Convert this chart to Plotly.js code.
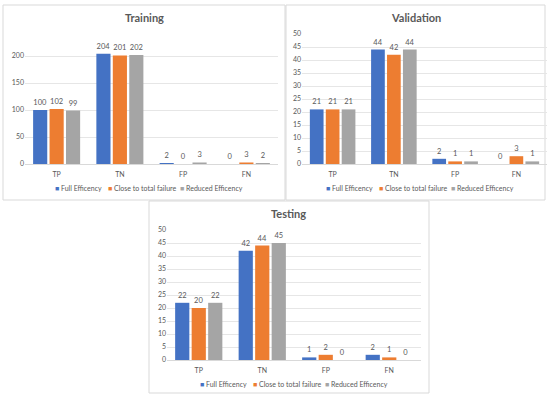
<!DOCTYPE html>
<html>
<head>
<meta charset="utf-8">
<script src="https://cdn.plot.ly/plotly-3.0.1.min.js"></script>
<style>html,body{margin:0;padding:0;background:#fff;}#chart{width:550px;height:398px;}</style>
</head>
<body>
<div id="chart"></div>
<script>
const categories = ["TP", "TN", "FP", "FN"];
const seriesNames = ["Full Efficency", "Close to total failure", "Reduced Efficency"];
const trainingFull = [100, 204, 2, 0];
const trainingClose = [102, 201, 0, 3];
const trainingReduced = [99, 202, 3, 2];
const validationFull = [21, 44, 2, 0];
const validationClose = [21, 42, 1, 3];
const validationReduced = [21, 44, 1, 1];
const testingFull = [22, 42, 1, 2];
const testingClose = [20, 44, 2, 1];
const testingReduced = [22, 45, 0, 0];
const trainingTicks = [0, 50, 100, 150, 200];
const smallTicks = [0, 5, 10, 15, 20, 25, 30, 35, 40, 45, 50];

const colors = ["#4472C4", "#ED7D31", "#A5A5A5"];
const W = 550, H = 398;
const px = v => v / W;
const py = v => 1 - v / H;
const FONT = "Lato, 'Open Sans', sans-serif";
const txtColor = "#595959";

function mk(vals, i, xa, ya) {
  return {
    type: "bar", x: categories, y: vals, name: seriesNames[i],
    xaxis: xa, yaxis: ya, showlegend: false,
    marker: {color: colors[i]},
    text: vals.map(String), textposition: "outside", cliponaxis: false,
    textfont: {size: 7.5, color: txtColor, family: FONT},
    hoverinfo: "x+y+name"
  };
}
const data = [
  mk(trainingFull, 0, "x", "y"),
  mk(trainingClose, 1, "x", "y"),
  mk(trainingReduced, 2, "x", "y"),
  mk(validationFull, 0, "x2", "y2"),
  mk(validationClose, 1, "x2", "y2"),
  mk(validationReduced, 2, "x2", "y2"),
  mk(testingFull, 0, "x3", "y3"),
  mk(testingClose, 1, "x3", "y3"),
  mk(testingReduced, 2, "x3", "y3")
];

function xax(d0, d1, anchor) {
  return {domain: [px(d0), px(d1)], anchor: anchor, showgrid: false, zeroline: false,
    showline: false, ticks: "", ticklabelstandoff: 5,
    tickfont: {size: 7, color: txtColor, family: FONT}, fixedrange: true};
}
function yax(top, bottom, anchor, range, ticks) {
  return {domain: [py(bottom), py(top)], anchor: anchor, range: range, tickvals: ticks,
    showgrid: true, gridcolor: "#e6e6e6", gridwidth: 1, zeroline: true, zerolinecolor: "#d9d9d9",
    showline: false, ticks: "", tickfont: {size: 7, color: txtColor, family: FONT}, fixedrange: true};
}
function title(text, xc, yc) {
  return {text: "<b>" + text + "</b>", x: px(xc), y: py(yc), xref: "paper", yref: "paper",
    xanchor: "center", yanchor: "middle", showarrow: false,
    font: {size: 11, color: txtColor, family: FONT}};
}
const legendOffsets = [0, 53, 125];
function legendItems(x0, yc) {
  return seriesNames.map((n, i) => ({
    text: "<span style='color:" + colors[i] + "'>■</span> " + n,
    x: px(x0 + legendOffsets[i]), y: py(yc), xref: "paper", yref: "paper",
    xanchor: "left", yanchor: "middle", showarrow: false,
    font: {size: 7, color: txtColor, family: FONT}
  }));
}
function box(x0, y0, x1, y1) {
  return {type: "rect", xref: "paper", yref: "paper", x0: px(x0), x1: px(x1), y0: py(y1), y1: py(y0),
    line: {color: "#d9d9d9", width: 1}, fillcolor: "rgba(0,0,0,0)", layer: "below"};
}

const layout = {
  width: W, height: H, margin: {l: 0, r: 0, t: 0, b: 0},
  paper_bgcolor: "#ffffff", plot_bgcolor: "rgba(0,0,0,0)",
  barmode: "group", bargap: 0.22, bargroupgap: 0.14,
  font: {family: FONT, color: txtColor},
  showlegend: false,
  xaxis: xax(25, 278, "y"),
  yaxis: yax(42.5, 164, "x", [0, 225], trainingTicks),
  xaxis2: xax(302, 547, "y2"),
  yaxis2: yax(34, 164, "x2", [0, 50], smallTicks),
  xaxis3: xax(167, 421, "y3"),
  yaxis3: yax(230, 360, "x3", [0, 50], smallTicks),
  annotations: [
    title("Training", 144, 18),
    title("Validation", 416, 18),
    title("Testing", 288, 213)
  ].concat(legendItems(53, 188), legendItems(324, 188), legendItems(198, 384)),
  shapes: [
    box(3, 5, 285, 200),
    box(286, 5, 545, 200),
    box(149, 201, 429, 393)
  ]
};
Plotly.newPlot("chart", data, layout, {displayModeBar: false, staticPlot: true});
</script>
</body>
</html>
